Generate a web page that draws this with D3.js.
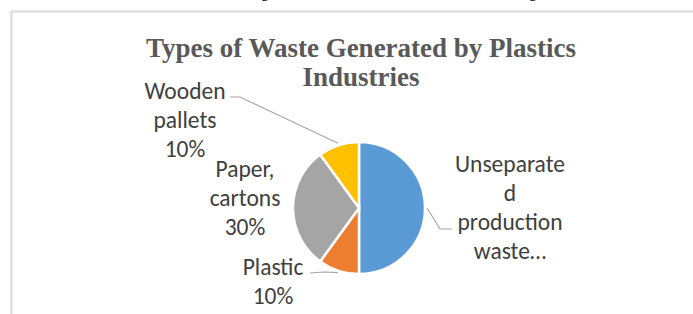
<!DOCTYPE html>
<html>
<head>
<meta charset="utf-8">
<script src="https://cdn.jsdelivr.net/npm/d3@7"></script>
<style>
  body { margin: 0; background: #fff; }
  svg { display: block; }
</style>
</head>
<body>
<div id="chart"></div>
<script>
// data
var categories = ["Unseparated production waste", "Plastic", "Paper, cartons", "Wooden pallets"];
var values = [50, 10, 30, 10];
var colors = ["#5b9bd5", "#ed7d31", "#a5a5a5", "#ffc000"];
// data label text as Excel wrapped / truncated it
var labelLines = [
  ["Unseparate", "d", "production", "waste…"],
  ["Plastic", "10%"],
  ["Paper,", "cartons", "30%"],
  ["Wooden", "pallets", "10%"]
];

// layout
var width = 693;
var height = 314;
var cx = 359, cy = 208, rad = 66;
var lineH = 29;
// label anchors (centre x, first baseline) relative to pie centre
var labelPos = [[151, -36], [-86, 67], [-114, -31], [-174, -109]];
// leader elbows / ends relative to pie centre, null = no leader
var leaders = [
  [[81, 21], [93, 21]],
  [[-35, 64], [-49, 65]],
  null,
  [[-119, -111], [-129, -111]]
];

var svg = d3.select("#chart")
  .append("svg")
  .attr("width", width)
  .attr("height", height);

// bits of the page text above the chart, cut off by the crop
[265, 533].forEach(function(x) {
  svg.append("text")
    .attr("x", x).attr("y", -3)
    .attr("text-anchor", "middle")
    .style("font-family", "'Liberation Serif', serif")
    .style("font-size", "16px")
    .attr("fill", "#000")
    .text("g");
});

// chart area border (runs off the right and bottom)
svg.append("rect")
  .attr("x", 11.5)
  .attr("y", 11.5)
  .attr("width", 720)
  .attr("height", 340)
  .attr("fill", "#fff")
  .attr("stroke", "#d9d9d9")
  .attr("stroke-width", 2);

// title
var title = svg.append("text")
  .attr("text-anchor", "middle")
  .style("font-family", "'Liberation Serif', 'Times New Roman', serif")
  .style("font-weight", "bold")
  .style("font-size", "27px")
  .attr("fill", "#595959");
title.append("tspan").attr("x", 361).attr("y", 57).text("Types of Waste Generated by Plastics");
title.append("tspan").attr("x", 361).attr("y", 86).text("Industries");

var pie = d3.pie().sort(null).value(function(d) { return d; });
var arcs = pie(values);
var arc = d3.arc().innerRadius(0).outerRadius(rad);

var g = svg.append("g").attr("transform", "translate(" + cx + "," + cy + ")");

g.selectAll("path.slice")
  .data(arcs)
  .enter()
  .append("path")
  .attr("class", "slice")
  .attr("d", arc)
  .attr("fill", function(d, i) { return colors[i]; })
  .attr("stroke", "#fff")
  .attr("stroke-width", 2.5)
  .attr("stroke-linejoin", "miter");

// leader lines from the slice edge
arcs.forEach(function(d, i) {
  if (!leaders[i]) return;
  var a = (d.startAngle + d.endAngle) / 2;
  var p0 = [Math.sin(a) * (rad + 2), -Math.cos(a) * (rad + 2)];
  var pts = [p0].concat(leaders[i]);
  g.append("path")
    .attr("d", d3.line()(pts))
    .attr("fill", "none")
    .attr("stroke", "#a6a6a6")
    .attr("stroke-width", 1.2);
});

// data labels
arcs.forEach(function(d, i) {
  var t = g.append("text")
    .attr("text-anchor", "middle")
    .style("font-family", "Calibri, Carlito, Lato, sans-serif")
    .style("font-size", "23.5px")
    .attr("fill", "#404040");
  labelLines[i].forEach(function(s, k) {
    t.append("tspan")
      .attr("x", labelPos[i][0])
      .attr("y", labelPos[i][1] + k * lineH)
      .text(s);
  });
});
</script>
</body>
</html>
